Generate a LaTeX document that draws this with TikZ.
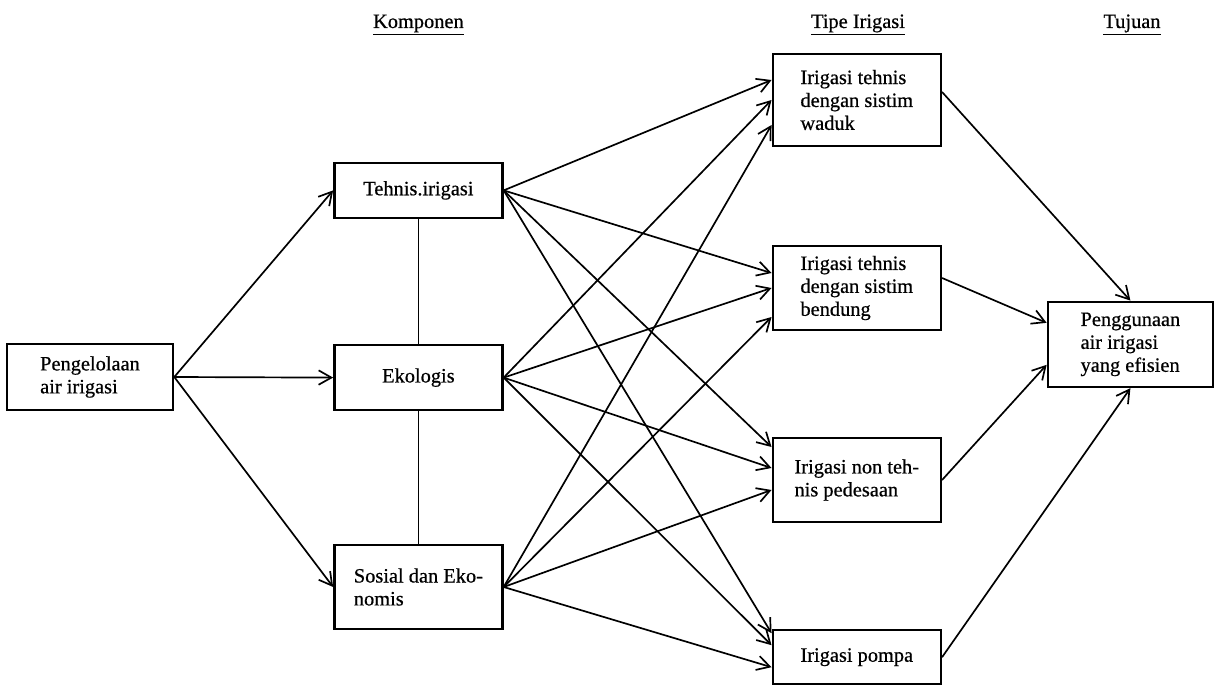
\documentclass[tikz,border=0pt]{standalone}
\usepackage{fontspec}
\setmainfont{Liberation Serif}[FakeBold=0.6]
\usetikzlibrary{arrows.meta}

\begin{document}
\begin{tikzpicture}[every node/.style={font=\fontsize{14.5}{16.3}\selectfont}]
  \tikzset{
    box/.style={draw, line width=1.8pt, minimum width=4.2cm, align=left, inner sep=0pt},
    head/.style={anchor=base},
    arr/.style={line width=1.2pt, -{Straight Barb[length=3.2mm,width=3.6mm]}},
    link/.style={line width=1.2pt}
  }
  \useasboundingbox (0,0) rectangle (30.475,-17.15);
  % judul kolom
  \node[head] (hkomp) at (10.46,-0.7) {\underline{Komponen}};
  \node[head] (htipe) at (21.45,-0.7) {\underline{Tipe Irigasi}};
  \node[head] (htuju) at (28.3,-0.7) {\underline{Tujuan}};
  % kotak
  \node[box, minimum width=4.15cm, minimum height=1.65cm] (peng) at (2.25,-9.425) {Pengelolaan\\air irigasi};
  \node[box, minimum height=1.375cm] (tehnis) at (10.46,-4.76) {Tehnis.irigasi};
  \node[box, minimum height=1.625cm] (eko) at (10.46,-9.44) {Ekologis};
  \node[box, minimum height=2.1cm] (sosial) at (10.46,-14.675) {Sosial dan Eko-\\nomis};
  \node[box, minimum height=2.3cm] (waduk) at (21.42,-2.5) {Irigasi tehnis\\dengan sistim\\waduk};
  \node[box, minimum height=2.1cm] (bendung) at (21.42,-7.2) {Irigasi tehnis\\dengan sistim\\bendung};
  \node[box, minimum height=2.1cm] (nontek) at (21.42,-12.0) {Irigasi non teh-\\nis pedesaan};
  \node[box, minimum height=1.35cm] (pompa) at (21.42,-16.43) {Irigasi pompa};
  \node[box, minimum width=4.125cm, minimum height=2.125cm] (guna) at (28.26,-8.61) {Penggunaan\\air irigasi\\yang efisien};
  % panah
  \draw[arr] (peng.east) -- (tehnis.west);
  \draw[arr] (peng.east) -- (eko.west);
  \draw[arr] (peng.east) -- (sosial.west);
  \draw[link] (tehnis) -- (eko);
  \draw[link] (eko) -- (sosial);
  \draw[arr] (tehnis.east) -- ([yshift=0.5cm]waduk.west);
  \draw[arr] (tehnis.east) -- ([yshift=0.375cm]bendung.west);
  \draw[arr] (tehnis.east) -- ([yshift=0.825cm]nontek.west);
  \draw[arr] (tehnis.east) -- ([yshift=0.6cm]pompa.west);
  \draw[arr] (eko.east) -- (waduk.west);
  \draw[arr] (eko.east) -- (bendung.west);
  \draw[arr] (eko.east) -- ([yshift=0.3cm]nontek.west);
  \draw[arr] (eko.east) -- ([yshift=0.3cm]pompa.west);
  \draw[arr] (sosial.east) -- ([yshift=-0.625cm]waduk.west);
  \draw[arr] (sosial.east) -- ([yshift=-0.725cm]bendung.west);
  \draw[arr] (sosial.east) -- ([yshift=-0.25cm]nontek.west);
  \draw[arr] (sosial.east) -- ([yshift=-0.25cm]pompa.west);
  \draw[arr] ([yshift=0.2cm]waduk.east) -- (guna.north);
  \draw[arr] ([yshift=0.25cm]bendung.east) -- ([yshift=0.54cm]guna.west);
  \draw[arr] (nontek.east) -- ([yshift=-0.51cm]guna.west);
  \draw[arr] (pompa.east) -- (guna.south);
\end{tikzpicture}
\end{document}
